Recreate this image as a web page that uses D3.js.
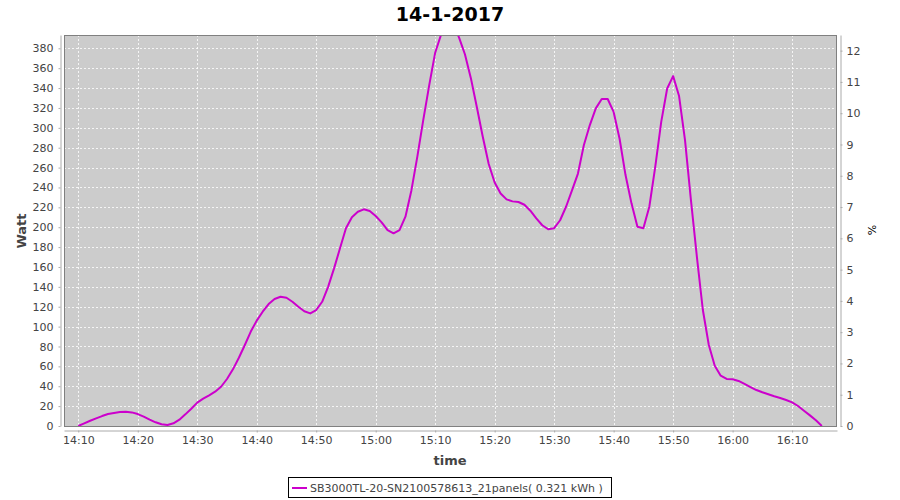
<!DOCTYPE html>
<html>
<head>
<meta charset="utf-8">
<script src="https://cdn.jsdelivr.net/npm/d3@7"></script>
<style>
  body { margin: 0; background: #ffffff; }
  svg { display: block; font-family: "DejaVu Sans", sans-serif; }
</style>
</head>
<body>
<svg id="chart" width="900" height="500"></svg>
<script>
// ==============================
// DATA
// ==============================

const chartTitle = "14-1-2017";
const seriesName = "SB3000TL-20-SN2100578613_21panels( 0.321 kWh )";

const times = [
  "14:10", "14:11", "14:12", "14:13", "14:14", "14:15", "14:16", "14:17", "14:18", "14:19",
  "14:20", "14:21", "14:22", "14:23", "14:24", "14:25", "14:26", "14:27", "14:28", "14:29",
  "14:30", "14:31", "14:32", "14:33", "14:34", "14:35", "14:36", "14:37", "14:38", "14:39",
  "14:40", "14:41", "14:42", "14:43", "14:44", "14:45", "14:46", "14:47", "14:48", "14:49",
  "14:50", "14:51", "14:52", "14:53", "14:54", "14:55", "14:56", "14:57", "14:58", "14:59",
  "15:00", "15:01", "15:02", "15:03", "15:04", "15:05", "15:06", "15:07", "15:08", "15:09",
  "15:10", "15:11", "15:12", "15:13", "15:14", "15:15", "15:16", "15:17", "15:18", "15:19",
  "15:20", "15:21", "15:22", "15:23", "15:24", "15:25", "15:26", "15:27", "15:28", "15:29",
  "15:30", "15:31", "15:32", "15:33", "15:34", "15:35", "15:36", "15:37", "15:38", "15:39",
  "15:40", "15:41", "15:42", "15:43", "15:44", "15:45", "15:46", "15:47", "15:48", "15:49",
  "15:50", "15:51", "15:52", "15:53", "15:54", "15:55", "15:56", "15:57", "15:58", "15:59",
  "16:00", "16:01", "16:02", "16:03", "16:04", "16:05", "16:06", "16:07", "16:08", "16:09",
  "16:10", "16:11", "16:12", "16:13", "16:14", "16:15"
];

const watts = [
  0, 2.7, 5.3, 7.7, 10, 12, 13, 14, 14.4, 13.7,
  12, 9.4, 6.4, 3.7, 1.7, 1, 2.7, 6.4, 11.7, 17.4,
  23.5, 27.5, 30.9, 34.5, 39.5, 47.3, 57, 68.7, 81.5, 95,
  106, 115, 122.7, 127.8, 130, 129, 125, 120, 115.4, 113.3,
  116.7, 125, 140, 158.6, 178.8, 198.9, 210, 215.6, 218, 216.3,
  211.3, 204.9, 197, 193.9, 197, 210.6, 237, 271, 308, 343,
  375.6, 394, 408, 405, 391, 374, 350, 321, 291, 263.6,
  245, 234, 228, 226, 225.4, 222.6, 216.6, 209, 202, 198,
  199, 207, 220.6, 237, 254, 282.7, 302.8, 319.6, 329, 329,
  316, 289, 252.5, 224, 200.5, 199, 220.6, 261, 306, 339.6,
  352, 332, 287.7, 227, 170, 116.7, 81.5, 60.7, 50.6, 47.3,
  47, 45.3, 42.3, 39.2, 36.2, 33.9, 31.9, 29.9, 28.2, 26.2,
  23.8, 20.1, 15.4, 10.7, 5.7, 0
];

const wattTicks = [0, 20, 40, 60, 80, 100, 120, 140, 160, 180, 200, 220, 240, 260, 280, 300, 320, 340, 360, 380];
const percentTicks = [0, 1, 2, 3, 4, 5, 6, 7, 8, 9, 10, 11, 12];
const timeTicks = ["14:10", "14:20", "14:30", "14:40", "14:50", "15:00", "15:10", "15:20", "15:30", "15:40", "15:50", "16:00", "16:10"];

// ==============================
// LAYOUT
// ==============================

const plot = { left: 64, top: 35, right: 837, bottom: 426 };
const lineColor = "#cc00cc";
const textColor = "#444444";

const parseTime = d3.timeParse("%Y-%m-%d %H:%M:%S");
const toDate = t => parseTime("2017-01-14 " + t + ":00");

const points = times.map((t, i) => ({ time: toDate(t), value: watts[i] }));

const svg = d3.select("#chart");

// ==============================
// SCALES
// ==============================

const x = d3.scaleTime()
  .domain([parseTime("2017-01-14 14:07:36"), parseTime("2017-01-14 16:17:33")])
  .range([plot.left, plot.right]);

const yWatt = d3.scaleLinear()
  .domain([0, 393.4])
  .range([plot.bottom, plot.top]);

const yPercent = d3.scaleLinear()
  .domain([0, 12.5])
  .range([plot.bottom, plot.top]);

// ==============================
// PLOT BACKGROUND + GRID
// ==============================

svg.append("rect")
  .attr("x", plot.left)
  .attr("y", plot.top)
  .attr("width", plot.right - plot.left)
  .attr("height", plot.bottom - plot.top)
  .attr("fill", "#cccccc");

const grid = svg.append("g").attr("class", "grid");

grid.selectAll("line.h")
  .data(wattTicks)
  .enter()
  .append("line")
  .attr("class", "h")
  .attr("x1", plot.left)
  .attr("x2", plot.right)
  .attr("y1", d => Math.round(yWatt(d)) + 0.5)
  .attr("y2", d => Math.round(yWatt(d)) + 0.5)
  .attr("stroke", "#ffffff")
  .attr("stroke-width", 0.8)
  .attr("stroke-dasharray", "2,2");

grid.selectAll("line.v")
  .data(timeTicks)
  .enter()
  .append("line")
  .attr("class", "v")
  .attr("x1", d => Math.round(x(toDate(d))) + 0.5)
  .attr("x2", d => Math.round(x(toDate(d))) + 0.5)
  .attr("y1", plot.top)
  .attr("y2", plot.bottom)
  .attr("stroke", "#ffffff")
  .attr("stroke-width", 0.8)
  .attr("stroke-dasharray", "2,2");

// ==============================
// SERIES LINE
// ==============================

svg.append("clipPath")
  .attr("id", "plot-clip")
  .append("rect")
  .attr("x", plot.left)
  .attr("y", plot.top)
  .attr("width", plot.right - plot.left)
  .attr("height", plot.bottom - plot.top);

const line = d3.line()
  .x(d => x(d.time))
  .y(d => yWatt(d.value));

svg.append("path")
  .datum(points)
  .attr("clip-path", "url(#plot-clip)")
  .attr("fill", "none")
  .attr("stroke", lineColor)
  .attr("stroke-width", 2)
  .attr("stroke-linejoin", "round")
  .attr("d", line);

// plot outline
svg.append("rect")
  .attr("x", plot.left + 0.5)
  .attr("y", plot.top + 0.5)
  .attr("width", plot.right - plot.left - 1)
  .attr("height", plot.bottom - plot.top)
  .attr("fill", "none")
  .attr("stroke", "#808080")
  .attr("stroke-width", 1);

// ==============================
// AXES
// ==============================

function styleAxis(g) {
  g.selectAll(".domain").attr("stroke", "#aaaaaa");
  g.selectAll(".tick line").attr("stroke", "#aaaaaa");
  g.selectAll(".tick text")
    .attr("fill", textColor)
    .attr("font-size", "11px")
    .attr("font-family", "DejaVu Sans, sans-serif");
}

svg.append("g")
  .attr("transform", `translate(${plot.left - 3.5},0)`)
  .call(d3.axisLeft(yWatt).tickValues(wattTicks).tickSize(2).tickSizeOuter(0).tickPadding(5))
  .call(styleAxis);

svg.append("g")
  .attr("transform", `translate(${plot.right + 3.5},0)`)
  .call(d3.axisRight(yPercent).tickValues(percentTicks).tickSize(2).tickSizeOuter(0).tickPadding(4))
  .call(styleAxis);

svg.append("g")
  .attr("transform", `translate(0,${plot.bottom + 4.5})`)
  .call(d3.axisBottom(x)
    .tickValues(timeTicks.map(toDate))
    .tickFormat(d3.timeFormat("%H:%M"))
    .tickSize(2)
    .tickSizeOuter(0)
    .tickPadding(4))
  .call(styleAxis);

// ==============================
// TITLES
// ==============================

svg.append("text")
  .attr("x", 450)
  .attr("y", 21)
  .attr("text-anchor", "middle")
  .attr("font-size", "19px")
  .attr("font-weight", "bold")
  .attr("fill", "#000000")
  .text(chartTitle);

svg.append("text")
  .attr("transform", "translate(26,231) rotate(-90)")
  .attr("text-anchor", "middle")
  .attr("font-size", "13px")
  .attr("font-weight", "bold")
  .attr("fill", textColor)
  .text("Watt");

svg.append("text")
  .attr("x", 450)
  .attr("y", 465)
  .attr("text-anchor", "middle")
  .attr("font-size", "13px")
  .attr("font-weight", "bold")
  .attr("fill", textColor)
  .text("time");

svg.append("text")
  .attr("transform", "translate(876,230) rotate(-90)")
  .attr("text-anchor", "middle")
  .attr("font-size", "11px")
  .attr("fill", "#000000")
  .text("%");

// ==============================
// LEGEND
// ==============================

const legend = svg.append("g").attr("class", "legend");

legend.append("rect")
  .attr("x", 288.5)
  .attr("y", 477.5)
  .attr("width", 323)
  .attr("height", 20)
  .attr("fill", "#ffffff")
  .attr("stroke", "#000000");

legend.append("line")
  .attr("x1", 292)
  .attr("x2", 307)
  .attr("y1", 488)
  .attr("y2", 488)
  .attr("stroke", lineColor)
  .attr("stroke-width", 2);

legend.append("text")
  .attr("x", 310)
  .attr("y", 492)
  .attr("font-size", "11px")
  .attr("fill", textColor)
  .text(seriesName);
</script>
</body>
</html>
